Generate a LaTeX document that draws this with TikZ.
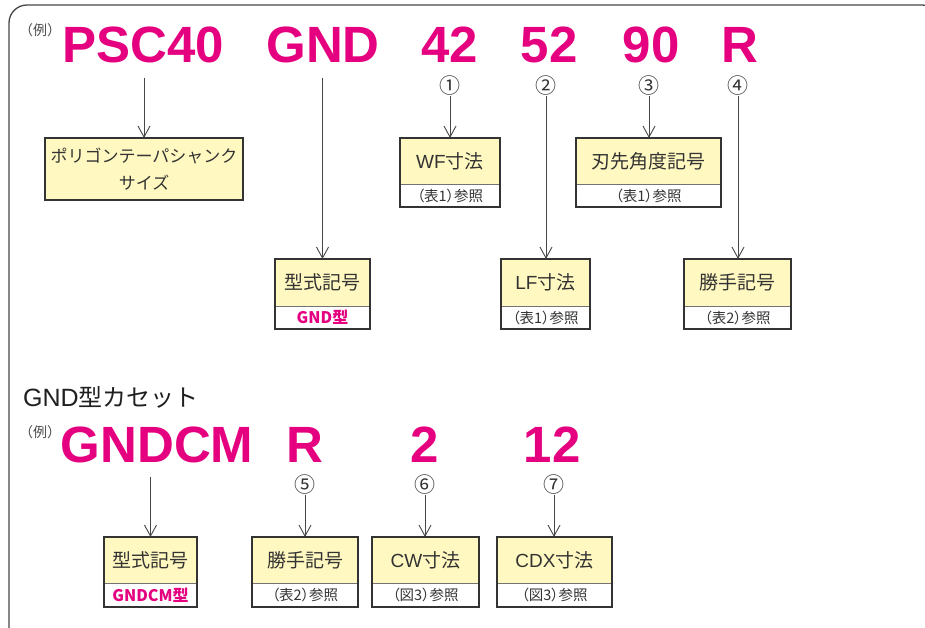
\documentclass[tikz,border=0pt]{standalone}
\usepackage{fontspec}
\setmainfont{Liberation Sans}
\newfontfamily\jp{Noto Sans CJK JP}
\newfontfamily\jpp[RawFeature=+palt]{Noto Sans CJK JP}
\usetikzlibrary{arrows.meta}
\definecolor{mag}{RGB}{228,0,127}
\definecolor{byel}{RGB}{255,248,192}
\definecolor{ink}{RGB}{51,51,51}
\definecolor{lineg}{RGB}{70,70,70}

\newcommand\cbox[8]{%
  \node[ytop, anchor=north west, minimum width={#4-#2}, minimum height={#5-#3}] (#1) at (#2,#3) {#7};
  \node[wbot, anchor=north west, minimum width={#4-#2}, minimum height={#6-#5}] (#1b) at (#2,#5) {#8};
  \draw[outerbox] (#1.north west) rectangle (#1b.south east);
}

\begin{document}
\begin{tikzpicture}[x=1pt,y=-1pt,
  big/.style={font=\fontsize{51}{51}\selectfont\bfseries, text=mag, inner sep=0pt, outer ysep=15pt, anchor=base},
  circ/.style={font=\jp\fontsize{21}{21}\selectfont, text=ink, inner sep=0pt},
  arr/.style={draw=lineg, line width=0.9pt, -{Straight Barb[length=11pt,width=12pt,line width=0.9pt]}},
  ytop/.style={fill=byel, draw=black!55, line width=0.7pt, inner sep=0pt, outer sep=0pt, text=ink, font=\fontsize{19}{27}\selectfont, align=center},
  wbot/.style={fill=white, draw=black!55, line width=0.7pt, inner sep=0pt, outer sep=0pt, text=ink, font=\jpp\fontsize{14.5}{14.5}\selectfont},
  outerbox/.style={draw=ink, line width=2pt},
  rei/.style={font=\jp\fontsize{14}{14}\selectfont, text=black!70, inner sep=0pt},
  magsub/.style={text=mag, font=\fontsize{16}{16}\selectfont\bfseries}
]
\useasboundingbox (0,0) rectangle (925,628);
\clip (0,0) rectangle (925,628);
\draw[line width=1.3pt, draw=black!72, rounded corners=18pt] (9,5) rectangle (940,645);

% ---------- top example ----------
\node[rei] (rei1) at (40,30) {（例）};
\node[big] (psc) at (143,63) {PSC40};
\node[big] (gnd) at (323,63) {GND};
\node[big] (n42) at (450,63) {42};
\node[big] (n52) at (549,63) {52};
\node[big] (n90) at (651,63) {90};
\node[big] (nR) at (740,63) {R};

\node[circ] (c1) at (450,86) {①};
\node[circ] (c2) at (546,86) {②};
\node[circ] (c3) at (649,86) {③};
\node[circ] (c4) at (738,86) {④};

\node[ytop, font=\jp\fontsize{17}{27}\selectfont, anchor=north west, minimum width=198, minimum height=62] (psb) at (45,138) {ポリゴンテーパシャンク\\サイズ};
\draw[outerbox] (psb.north west) rectangle (psb.south east);

\cbox{gt}{275}{259}{370}{306}{329}{{\jp 型式記号}}{\textcolor{mag}{\fontsize{16}{16}\selectfont\bfseries GND{\jp 型}}}
\cbox{wf}{400}{138}{500}{184}{207}{WF{\jp 寸法}}{（表1）参照}
\cbox{ang}{576}{138}{721}{184}{207}{{\jp 刃先角度記号}}{（表1）参照}
\cbox{lf}{501}{259}{590}{306}{329}{LF{\jp 寸法}}{（表1）参照}
\cbox{hd}{684}{259}{791}{306}{329}{{\jp 勝手記号}}{（表2）参照}

\draw[arr] (psc.south -| psb.north) -- (psb.north);
\draw[arr] (gnd.south -| gt.north) -- (gt.north);
\draw[arr] (c1.south) -- (c1.south |- wf.north);
\draw[arr] (c2.south) -- (c2.south |- lf.north);
\draw[arr] (c3.south) -- (c3.south |- ang.north);
\draw[arr] (c4.south) -- (c4.south |- hd.north);

% ---------- bottom example ----------
\node[anchor=base west, inner sep=0pt, text=black!88, font=\fontsize{25}{25}\selectfont] (cas) at (23,406) {GND{\jp\fontsize{24}{24}\selectfont 型カセット}};
\node[rei] (rei2) at (40,432) {（例）};
\node[big, outer ysep=14pt] (gndcm) at (157,462) {GNDCM};
\node[big] (r2) at (305,462) {R};
\node[big] (t2) at (425,462) {2};
\node[big] (t12) at (552,462) {12};

\node[circ] (c5) at (305,485) {⑤};
\node[circ] (c6) at (425,485) {⑥};
\node[circ] (c7) at (554,485) {⑦};

\cbox{gt2}{104}{537}{197}{583}{607}{{\jp 型式記号}}{\textcolor{mag}{\fontsize{16}{16}\selectfont\bfseries GNDCM{\jp 型}}}
\cbox{hd2}{252}{537}{358}{583}{607}{{\jp 勝手記号}}{（表2）参照}
\cbox{cw}{372}{537}{479}{583}{607}{CW{\jp 寸法}}{（図3）参照}
\cbox{cdx}{497}{537}{612}{583}{607}{CDX{\jp 寸法}}{（図3）参照}

\draw[arr] (gndcm.south -| gt2.north) -- (gt2.north);
\draw[arr] (c5.south) -- (c5.south |- hd2.north);
\draw[arr] (c6.south) -- (c6.south |- cw.north);
\draw[arr] (c7.south) -- (c7.south |- cdx.north);
\end{tikzpicture}
\end{document}
